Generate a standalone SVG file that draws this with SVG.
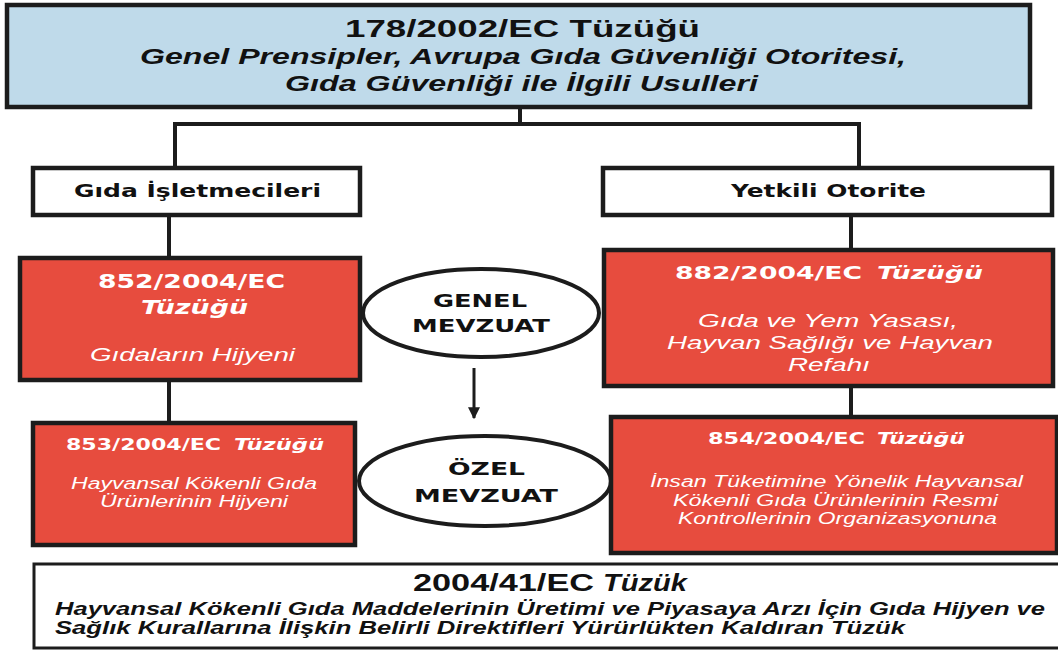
<svg xmlns="http://www.w3.org/2000/svg" width="1058" height="652" viewBox="0 0 1058 652">
<style>
.box{stroke:#1c1c1c;stroke-width:4.5}
.blue{fill:#bfdaea}
.red{fill:#e74c3e}
.white{fill:#ffffff}
.conn{stroke:#1c1c1c;stroke-width:4;fill:none}
.wide{font-family:"DejaVu Sans","Liberation Sans",sans-serif;font-weight:bold}
.sans{font-family:"Liberation Sans","Noto Sans",sans-serif}
.bi{font-style:italic;font-weight:bold}
.b{font-weight:bold}
.it{font-style:italic}
.wt{fill:#ffffff}
.bk{fill:#111111}
</style>
<defs>
<marker id="ah" viewBox="0 0 10 10" refX="9" refY="5" markerWidth="4" markerHeight="4" orient="auto" markerUnits="strokeWidth">
<path d="M0,0 L10,5 L0,10 z" fill="#1c1c1c"/>
</marker>
</defs>

<g id="connectors">
<path class="conn" d="M520,107 V124 M175,124 H859 M175,122 V168 M859,122 V168"/>
<path class="conn" d="M169,215 V258 M169,380 V423"/>
<path class="conn" d="M851,215 V250 M851,386 V417"/>
<line x1="474" y1="368" x2="474" y2="418" stroke="#1c1c1c" stroke-width="3" marker-end="url(#ah)"/>
</g>

<g id="n178">
<rect class="box blue" x="7" y="5" width="1023" height="102"/>
<text class="sans bk b" font-size="24" x="345" y="37" textLength="355" lengthAdjust="spacingAndGlyphs">178/2002/EC Tüzüğü</text>
<text class="sans bk bi" font-size="22" x="140" y="64" textLength="766" lengthAdjust="spacingAndGlyphs">Genel Prensipler, Avrupa Gıda Güvenliği Otoritesi,</text>
<text class="sans bk bi" font-size="22" x="285" y="91" textLength="473" lengthAdjust="spacingAndGlyphs">Gıda Güvenliği ile İlgili Usulleri</text>
</g>

<g id="gida">
<rect class="box white" x="33" y="168" width="327" height="47"/>
<text class="wide bk" font-size="17" x="74" y="197" textLength="247" lengthAdjust="spacingAndGlyphs">Gıda İşletmecileri</text>
</g>

<g id="yetkili">
<rect class="box white" x="603" y="168" width="449" height="47"/>
<text class="wide bk" font-size="17" x="731" y="197" textLength="195" lengthAdjust="spacingAndGlyphs">Yetkili Otorite</text>
</g>

<g id="n852">
<rect class="box red" x="20" y="258" width="340" height="122"/>
<text class="wide wt" font-size="19" x="98" y="288" textLength="187" lengthAdjust="spacingAndGlyphs">852/2004/EC</text>
<text class="wide wt" font-style="italic" font-size="19" x="141" y="314" textLength="107" lengthAdjust="spacingAndGlyphs">Tüzüğü</text>
<text class="sans wt it" font-size="19" x="90" y="361" textLength="205" lengthAdjust="spacingAndGlyphs">Gıdaların Hijyeni</text>
</g>

<g id="genel">
<ellipse cx="481" cy="313" rx="118" ry="44" fill="#ffffff" stroke="#1c1c1c" stroke-width="4"/>
<text class="wide bk" font-size="17" x="433" y="307" textLength="94" lengthAdjust="spacingAndGlyphs">GENEL</text>
<text class="wide bk" font-size="17" x="412" y="332" textLength="138" lengthAdjust="spacingAndGlyphs">MEVZUAT</text>
</g>

<g id="n882">
<rect class="box red" x="604" y="250" width="449" height="136"/>
<text class="wide wt" font-size="18" x="675" y="279" textLength="187" lengthAdjust="spacingAndGlyphs">882/2004/EC</text>
<text class="wide wt" font-style="italic" font-size="18" x="877" y="279" textLength="106" lengthAdjust="spacingAndGlyphs">Tüzüğü</text>
<text class="sans wt it" font-size="18" x="698" y="327" textLength="260" lengthAdjust="spacingAndGlyphs">Gıda ve Yem Yasası,</text>
<text class="sans wt it" font-size="18" x="667" y="349" textLength="326" lengthAdjust="spacingAndGlyphs">Hayvan Sağlığı ve Hayvan</text>
<text class="sans wt it" font-size="18" x="788" y="371" textLength="82" lengthAdjust="spacingAndGlyphs">Refahı</text>
</g>

<g id="n853">
<rect class="box red" x="33" y="423" width="322" height="122"/>
<text class="wide wt" font-size="16" x="66" y="450" textLength="155" lengthAdjust="spacingAndGlyphs">853/2004/EC</text>
<text class="wide wt" font-style="italic" font-size="16" x="234" y="450" textLength="90" lengthAdjust="spacingAndGlyphs">Tüzüğü</text>
<text class="sans wt it" font-size="16" x="71" y="489" textLength="246" lengthAdjust="spacingAndGlyphs">Hayvansal Kökenli Gıda</text>
<text class="sans wt it" font-size="16" x="100" y="507" textLength="188" lengthAdjust="spacingAndGlyphs">Ürünlerinin Hijyeni</text>
</g>

<g id="ozel">
<ellipse cx="485" cy="481" rx="126" ry="45" fill="#ffffff" stroke="#1c1c1c" stroke-width="4"/>
<text class="wide bk" font-size="17" x="448" y="475" textLength="77" lengthAdjust="spacingAndGlyphs">ÖZEL</text>
<text class="wide bk" font-size="17" x="414" y="502" textLength="144" lengthAdjust="spacingAndGlyphs">MEVZUAT</text>
</g>

<g id="n854">
<rect class="box red" x="611" y="417" width="446" height="136"/>
<text class="wide wt" font-size="16" x="708" y="444" textLength="157" lengthAdjust="spacingAndGlyphs">854/2004/EC</text>
<text class="wide wt" font-style="italic" font-size="16" x="877" y="444" textLength="88" lengthAdjust="spacingAndGlyphs">Tüzüğü</text>
<text class="sans wt it" font-size="16" x="650" y="487" textLength="373" lengthAdjust="spacingAndGlyphs">İnsan Tüketimine Yönelik Hayvansal</text>
<text class="sans wt it" font-size="16" x="673" y="506" textLength="325" lengthAdjust="spacingAndGlyphs">Kökenli Gıda Ürünlerinin Resmi</text>
<text class="sans wt it" font-size="16" x="678" y="524" textLength="319" lengthAdjust="spacingAndGlyphs">Kontrollerinin Organizasyonuna</text>
</g>

<g id="n2004">
<rect x="34" y="564" width="1030" height="84" fill="#ffffff" stroke="#1c1c1c" stroke-width="3"/>
<text class="sans bk b" font-size="23" x="413" y="591" textLength="181" lengthAdjust="spacingAndGlyphs">2004/41/EC</text>
<text class="sans bk bi" font-size="23" x="603" y="591" textLength="84" lengthAdjust="spacingAndGlyphs">Tüzük</text>
<text class="sans bk bi" font-size="18" x="55" y="615" textLength="990" lengthAdjust="spacingAndGlyphs">Hayvansal Kökenli Gıda Maddelerinin Üretimi ve Piyasaya Arzı İçin Gıda Hijyen ve</text>
<text class="sans bk bi" font-size="18" x="55" y="634" textLength="850" lengthAdjust="spacingAndGlyphs">Sağlık Kurallarına İlişkin Belirli Direktifleri Yürürlükten Kaldıran Tüzük</text>
</g>
</svg>
